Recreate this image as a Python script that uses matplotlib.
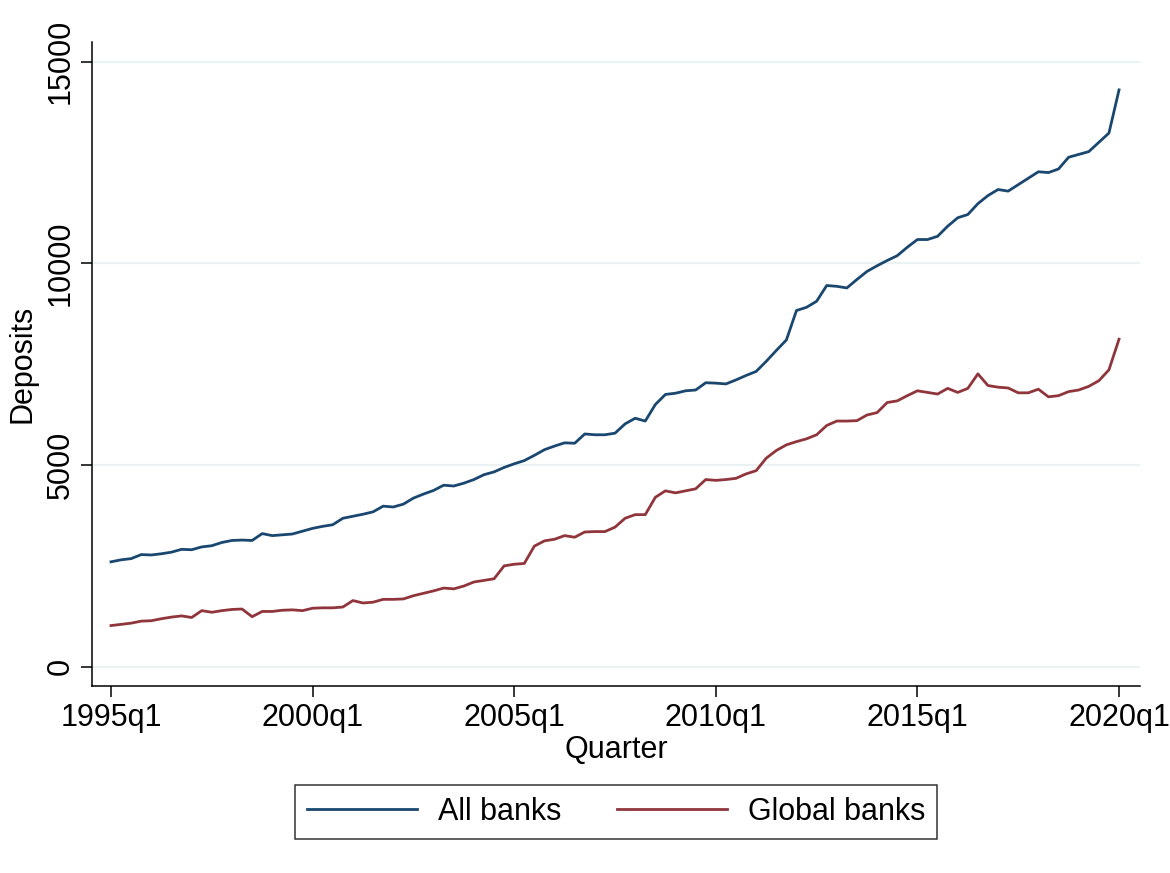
import numpy as np
import matplotlib
matplotlib.use("Agg")
import matplotlib.pyplot as plt

# quarterly deposits, 1995q1 .. 2020q1
all_banks = [
    2600, 2650, 2680, 2780,
    2770, 2800, 2840, 2910,
    2900, 2970, 3000, 3080,
    3130, 3140, 3130, 3300,
    3250, 3270, 3290, 3360,
    3430, 3480, 3520, 3680,
    3730, 3780, 3840, 3980,
    3960, 4030, 4180, 4280,
    4370, 4500, 4480, 4550,
    4640, 4760, 4830, 4940,
    5030, 5110, 5240, 5380,
    5470, 5550, 5540, 5770,
    5750, 5750, 5790, 6020,
    6160, 6090, 6500, 6750,
    6780, 6840, 6860, 7040,
    7030, 7010, 7110, 7220,
    7320, 7570, 7840, 8100,
    8830, 8910, 9060, 9450,
    9430, 9390, 9600, 9800,
    9940, 10070, 10190, 10400,
    10590, 10590, 10670, 10920,
    11130, 11210, 11480, 11680,
    11830, 11790, 11950, 12110,
    12270, 12250, 12340, 12630,
    12700, 12770, 13000, 13230,
    14300,
]
global_banks = [
    1020, 1050, 1080, 1130,
    1140, 1190, 1230, 1260,
    1220, 1390, 1350, 1390,
    1420, 1430, 1240, 1370,
    1370, 1400, 1410, 1390,
    1450, 1460, 1460, 1480,
    1640, 1580, 1600, 1670,
    1670, 1680, 1760, 1820,
    1880, 1950, 1930, 2000,
    2100, 2140, 2180, 2500,
    2540, 2560, 2990, 3120,
    3160, 3250, 3210, 3340,
    3350, 3350, 3460, 3680,
    3770, 3770, 4200, 4360,
    4310, 4360, 4410, 4640,
    4620, 4640, 4670, 4780,
    4860, 5170, 5360, 5500,
    5580, 5650, 5750, 5980,
    6090, 6090, 6100, 6240,
    6300, 6550, 6590, 6720,
    6840, 6800, 6760, 6900,
    6800, 6900, 7260, 6970,
    6930, 6910, 6790, 6790,
    6880, 6690, 6720, 6820,
    6860, 6950, 7090, 7360,
    8120,
]
tick_pos = [0, 20, 40, 60, 80, 100]
tick_labels = ["1995q1", "2000q1", "2005q1", "2010q1", "2015q1", "2020q1"]
y_ticks = [0, 5000, 10000, 15000]

plt.rcParams["font.family"] = ["Liberation Sans", "DejaVu Sans"]

W, H = 1170, 873
fs = 22
fig = plt.figure(figsize=(W / 100, H / 100), dpi=100)
ax = fig.add_axes([92 / W, (H - 686) / H, (1140 - 92) / W, (686 - 42) / H])

q = np.arange(len(all_banks))
ax.plot(q, all_banks, color="#1a476f", lw=2.0, label="All banks")
ax.plot(q, global_banks, color="#90353b", lw=2.0, label="Global banks")

ax.set_xlim(-1.885, 102.08)
ax.set_ylim(-478, 15487)

for v in y_ticks:
    ax.axhline(v, color="#eaf2f3", lw=1.6, zorder=0)

ax.set_xticks(tick_pos)
ax.set_xticklabels(tick_labels, fontsize=fs)
ax.set_yticks(y_ticks)
ax.set_yticklabels([str(v) for v in y_ticks], fontsize=fs, rotation=90, va="center")
ax.tick_params(direction="out", length=8, width=1.1, pad=4)

ax.spines["top"].set_visible(False)
ax.spines["right"].set_visible(False)
ax.spines["left"].set_linewidth(1.1)
ax.spines["bottom"].set_linewidth(1.1)

ax.set_xlabel("Quarter", fontsize=fs, labelpad=2)
ax.set_ylabel("Deposits", fontsize=fs, labelpad=6)

leg = fig.legend(loc="center", bbox_to_anchor=(616 / W, 1 - 812 / H), ncol=2,
                 fontsize=fs, frameon=True, fancybox=False, edgecolor="black",
                 handlelength=3.6, columnspacing=1.8, borderpad=0.4,
                 handletextpad=0.7, borderaxespad=0.0)
leg.get_frame().set_linewidth(1.1)

fig.savefig("out.png", dpi=100)
